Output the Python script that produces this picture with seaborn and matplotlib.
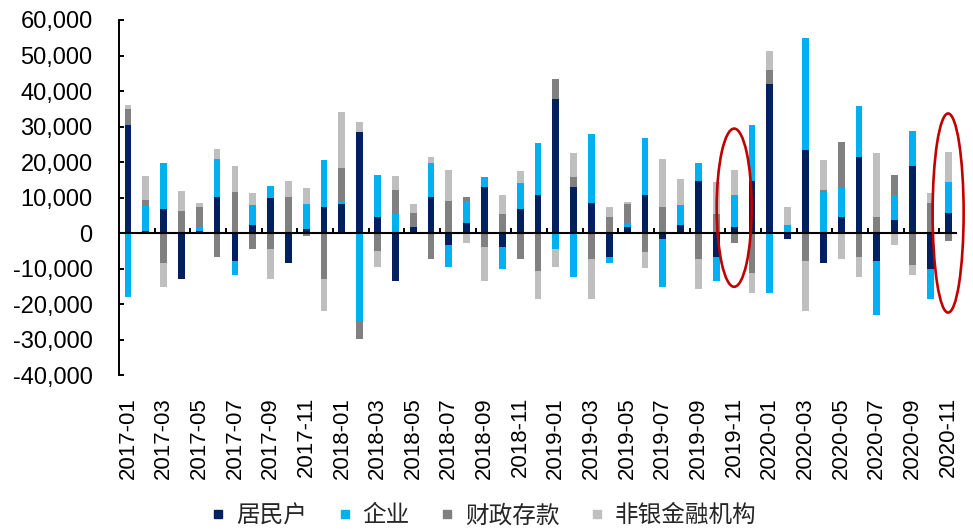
import numpy as np
import pandas as pd
import matplotlib
matplotlib.use("Agg")
import matplotlib.pyplot as plt
from matplotlib.patches import Ellipse
from matplotlib.lines import Line2D
from matplotlib.ticker import FuncFormatter
import seaborn as sns

# Monthly change in deposits by holder (2017-01 .. 2020-11)
months = [f"{y}-{m:02d}" for y in range(2017, 2021) for m in range(1, 13)][:47]

households = [30600, 750, 6900, -12800, 750, 10300, -7700, 2400, 9800, -8300, 1300, 7500,
              8100, 28400, 4700, -13300, 1900, 10300, -3200, 3000, 13100, -3800, 6900, 10900,
              37900, 13100, 8600, -6600, 1900, 10900, -1500, 2400, 14800, -6600, 1900, 14800,
              41900, -1500, 23300, -8300, 4700, 21600, -7700, 3600, 18800, -10000, 5800]
corporates = [-17800, 6800, 13000, 0, 1100, 10700, -3900, 5600, 3400, 0, 6800, 13000,
              600, -24600, 11800, 5300, 0, 9600, -6200, 6200, 2800, -6200, 7300, 14600,
              -4300, -12200, 19200, -1700, 1100, 15800, -13500, 5600, 5100, -6800, 9000, 15800,
              -16700, 2400, 31500, 11500, 7900, 14100, -15200, 7300, 10100, -8500, 8500]
fiscal = [4500, 1700, -8300, 6400, 5600, -6600, 11500, -4300, -4300, 10300, -900, -12800,
          9600, -5100, -4900, 6800, 3900, -7100, 9200, 1100, -3800, 5300, -7100, -10500,
          5600, 2800, -7100, 4700, 5100, -5400, 7500, 0, -7100, 5300, -2600, -11100,
          3900, 0, -7700, 600, 13000, -6600, 4700, 5600, -8800, 8600, -2100]
nonbank = [1100, 6800, -6800, 5600, 1100, 2800, 7300, 3400, -8500, 4500, 4500, -9000,
           15800, 2800, -4500, 3900, 2300, 1700, 8500, -2600, -9600, 5600, 3400, -7900,
           -5100, 6800, -11300, 2800, 600, -4500, 13500, 7300, -8500, 9000, 6800, -5600,
           5600, 5100, -14100, 8500, -7100, -5600, 18000, -3200, -2800, 2800, 8500]

series_names = ["居民户", "企业", "财政存款", "非银金融机构"]
series_values = [households, corporates, fiscal, nonbank]
colors = ["#002060", "#00B0F0", "#808080", "#BFBFBF"]
highlight_months = ["2019-11", "2020-11"]

sns.set_theme(style="white")
plt.rcParams["font.family"] = ["Liberation Sans", "DejaVu Sans"]

fig = plt.figure(figsize=(9.73, 5.29), dpi=100)
ax = fig.add_axes([0.1223, 0.2902, 0.8613, 0.6720])

# Stack positives upward and negatives downward in series order: draw the
# cumulative totals from the outermost layer inward so inner layers cover them.
vals = np.array(series_values, dtype=float)
pos_cum = np.cumsum(np.clip(vals, 0, None), axis=0)
neg_cum = np.cumsum(np.clip(vals, None, 0), axis=0)
for cum in (pos_cum, neg_cum):
    for k in range(len(series_names) - 1, -1, -1):
        df = pd.DataFrame({"month": months, "value": cum[k]})
        sns.barplot(data=df, x="month", y="value", order=months, color=colors[k],
                    saturation=1, width=0.38, linewidth=0, ax=ax, errorbar=None)

ax.set_xlim(-0.5, len(months) - 0.5)
ax.set_ylim(-40000, 60000)
ax.set_yticks(np.arange(-40000, 60001, 10000))
ax.yaxis.set_major_formatter(FuncFormatter(lambda v, p: f"{int(v):,}"))
ax.tick_params(axis="y", direction="in", length=3.6, width=1.4, pad=19,
               labelsize=17, left=True, color="black", labelcolor="black")

ax.set_xticks(range(0, len(months), 2))
ax.set_xticklabels(months[::2], rotation=90, fontsize=16)
ax.tick_params(axis="x", length=0, pad=15.5, labelcolor="black")
ax.set_xlabel("")
ax.set_ylabel("")

for side in ("top", "right", "bottom"):
    ax.spines[side].set_visible(False)
ax.spines["left"].set_color("black")
ax.spines["left"].set_linewidth(1.4)

# Zero line with category-boundary tick marks
ax.axhline(0, color="black", linewidth=1.5, zorder=4)
zero_frac = (0 - ax.get_ylim()[0]) / (ax.get_ylim()[1] - ax.get_ylim()[0])
sec = ax.secondary_xaxis(zero_frac)
sec.set_xticks(np.arange(1.5, len(months) - 1, 2))
sec.tick_params(axis="x", direction="in", length=3.6, width=1.4, labelbottom=False,
                color="black", bottom=True)
sec.spines["bottom"].set_visible(False)
sec.set_zorder(5)

# Highlight rings around the latest comparable months
ring_specs = {"2019-11": (7200, 1.96, 44500), "2020-11": (5700, 1.74, 56000)}
for m in highlight_months:
    cy, w, h = ring_specs[m]
    ax.add_patch(Ellipse((months.index(m), cy), w, h, fill=False,
                         edgecolor="#C00000", linewidth=1.9, zorder=6, clip_on=False))

handles = [Line2D([], [], linestyle="none", marker="s", markersize=5.6,
                  markerfacecolor=c, markeredgecolor=c) for c in colors]
fig.legend(handles, series_names, loc="center", bbox_to_anchor=(0.498, 0.025),
           ncol=4, frameon=False, handlelength=0.5, handletextpad=0.5,
           columnspacing=1.35, prop={"family": ["Noto Sans CJK SC", "DejaVu Sans"], "size": 17})

fig.savefig("out.png", dpi=100)
